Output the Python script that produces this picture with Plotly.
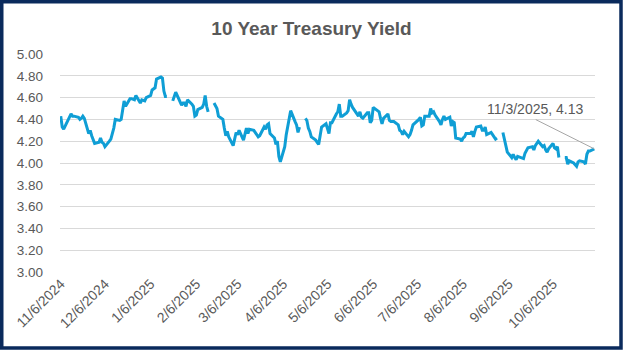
import plotly.graph_objects as go

# ---------------- data ----------------
dates = [
    "2024-11-06", "2024-11-07", "2024-11-08", "2024-11-12", "2024-11-13", "2024-11-14", "2024-11-15",
    "2024-11-18", "2024-11-19", "2024-11-20", "2024-11-21", "2024-11-22", "2024-11-25", "2024-11-26",
    "2024-11-27", "2024-11-29",
    "2024-12-02", "2024-12-03", "2024-12-04", "2024-12-05", "2024-12-06", "2024-12-09", "2024-12-10",
    "2024-12-11", "2024-12-12", "2024-12-13", "2024-12-16", "2024-12-17", "2024-12-18", "2024-12-19",
    "2024-12-20", "2024-12-23", "2024-12-24", "2024-12-26", "2024-12-27", "2024-12-30", "2024-12-31",
    "2025-01-02", "2025-01-03", "2025-01-06", "2025-01-07", "2025-01-08", "2025-01-09", "2025-01-10",
    "2025-01-13", "2025-01-14", "2025-01-15", "2025-01-16", "2025-01-17", "2025-01-20", "2025-01-21",
    "2025-01-22", "2025-01-23", "2025-01-24", "2025-01-27", "2025-01-28", "2025-01-29", "2025-01-30",
    "2025-01-31",
    "2025-02-03", "2025-02-04", "2025-02-05", "2025-02-06", "2025-02-07", "2025-02-10", "2025-02-11",
    "2025-02-12", "2025-02-13", "2025-02-14", "2025-02-17", "2025-02-18", "2025-02-19", "2025-02-20",
    "2025-02-21", "2025-02-24", "2025-02-25", "2025-02-26", "2025-02-27", "2025-02-28",
    "2025-03-03", "2025-03-04", "2025-03-05", "2025-03-06", "2025-03-07", "2025-03-10", "2025-03-11",
    "2025-03-12", "2025-03-13", "2025-03-14", "2025-03-17", "2025-03-18", "2025-03-19", "2025-03-20",
    "2025-03-21", "2025-03-24", "2025-03-25", "2025-03-26", "2025-03-27", "2025-03-28", "2025-03-31",
    "2025-04-01", "2025-04-02", "2025-04-03", "2025-04-04", "2025-04-07", "2025-04-08", "2025-04-09",
    "2025-04-10", "2025-04-11", "2025-04-14", "2025-04-15", "2025-04-16", "2025-04-17", "2025-04-18",
    "2025-04-21", "2025-04-22", "2025-04-23", "2025-04-24", "2025-04-25", "2025-04-28", "2025-04-29",
    "2025-04-30",
    "2025-05-01", "2025-05-02", "2025-05-05", "2025-05-06", "2025-05-07", "2025-05-08", "2025-05-09",
    "2025-05-12", "2025-05-13", "2025-05-14", "2025-05-15", "2025-05-16", "2025-05-19", "2025-05-20",
    "2025-05-21", "2025-05-22", "2025-05-23", "2025-05-27", "2025-05-28", "2025-05-29", "2025-05-30",
    "2025-06-02", "2025-06-03", "2025-06-04", "2025-06-05", "2025-06-06", "2025-06-09", "2025-06-10",
    "2025-06-11", "2025-06-12", "2025-06-13", "2025-06-16", "2025-06-17", "2025-06-18", "2025-06-20",
    "2025-06-23", "2025-06-24", "2025-06-25", "2025-06-26", "2025-06-27", "2025-06-30",
    "2025-07-01", "2025-07-02", "2025-07-03", "2025-07-07", "2025-07-08", "2025-07-09", "2025-07-10",
    "2025-07-11", "2025-07-14", "2025-07-15", "2025-07-16", "2025-07-17", "2025-07-18", "2025-07-21",
    "2025-07-22", "2025-07-23", "2025-07-24", "2025-07-25", "2025-07-28", "2025-07-29", "2025-07-30",
    "2025-07-31",
    "2025-08-01", "2025-08-04", "2025-08-05", "2025-08-06", "2025-08-07", "2025-08-08", "2025-08-11",
    "2025-08-12", "2025-08-13", "2025-08-14", "2025-08-15", "2025-08-18", "2025-08-19", "2025-08-20",
    "2025-08-21", "2025-08-22", "2025-08-25", "2025-08-26", "2025-08-27", "2025-08-28", "2025-08-29",
    "2025-09-01", "2025-09-02", "2025-09-03", "2025-09-04", "2025-09-05", "2025-09-08", "2025-09-09",
    "2025-09-10", "2025-09-11", "2025-09-12", "2025-09-15", "2025-09-16", "2025-09-17", "2025-09-18",
    "2025-09-19", "2025-09-22", "2025-09-23", "2025-09-24", "2025-09-25", "2025-09-26", "2025-09-29",
    "2025-09-30",
    "2025-10-01", "2025-10-02", "2025-10-03", "2025-10-06", "2025-10-07", "2025-10-08", "2025-10-09",
    "2025-10-10", "2025-10-13", "2025-10-14", "2025-10-15", "2025-10-16", "2025-10-17", "2025-10-20",
    "2025-10-21", "2025-10-22", "2025-10-23", "2025-10-24", "2025-10-27", "2025-10-28", "2025-10-29",
    "2025-10-30", "2025-10-31",
    "2025-11-03",
]

yields = [
    4.43, 4.33, 4.31, 4.43, 4.45, 4.43, 4.43,
    4.42, 4.40, 4.41, 4.43, 4.41, 4.27, 4.30,
    4.25, 4.18,
    4.19, 4.23, 4.19, 4.18, 4.15, 4.20, 4.22,
    4.27, 4.32, 4.40, 4.39, 4.40, 4.50, 4.57,
    4.52, 4.59, 4.59, 4.58, 4.62, 4.55, 4.58,
    4.57, 4.60, 4.62, 4.67, 4.68, 4.69, 4.77,
    4.79, 4.78, 4.66, 4.61, 4.61, None, 4.57,
    4.61, 4.65, 4.62, 4.53, 4.55, 4.55, 4.52,
    4.58,
    4.54, 4.52, 4.43, 4.44, 4.49, 4.51, 4.54,
    4.62, 4.52, 4.47, None, 4.55, 4.53, 4.50,
    4.43, 4.40, 4.32, 4.25, 4.29, 4.24,
    4.16, 4.22, 4.28, 4.26, 4.30, 4.21, 4.28,
    4.32, 4.27, 4.31, 4.30, 4.28, 4.25, 4.24,
    4.25, 4.33, 4.31, 4.35, 4.36, 4.27, 4.23,
    4.17, 4.20, 4.06, 4.01, 4.15, 4.26, 4.34,
    4.42, 4.48, 4.38, 4.35, 4.28, 4.33, None,
    4.41, 4.39, 4.32, 4.29, 4.24, 4.21, 4.19,
    4.17,
    4.25, 4.33, 4.36, 4.30, 4.27, 4.37, 4.37,
    4.45, 4.47, 4.54, 4.43, 4.43, 4.46, 4.48,
    4.58, 4.54, 4.51, 4.43, 4.47, 4.42, 4.41,
    4.46, 4.46, 4.37, 4.39, 4.51, 4.48, 4.47,
    4.41, 4.36, 4.41, 4.45, 4.39, 4.38, 4.38,
    4.35, 4.30, 4.29, 4.26, 4.29, 4.24,
    4.26, 4.30, 4.35, 4.40, 4.42, 4.34, 4.35,
    4.43, 4.43, 4.50, 4.46, 4.47, 4.44, 4.38,
    4.35, 4.40, 4.43, 4.40, 4.42, 4.34, 4.38,
    4.37,
    4.23, 4.22, 4.20, 4.23, 4.24, 4.27, 4.27,
    4.29, 4.24, 4.29, 4.33, 4.34, 4.30, 4.30,
    4.33, 4.26, 4.28, 4.26, 4.24, 4.22, 4.23,
    None, 4.28, 4.22, 4.17, 4.10, 4.05, 4.08,
    4.05, 4.03, 4.06, 4.05, 4.04, 4.09, 4.11,
    4.14, 4.15, 4.12, 4.16, 4.18, 4.20, 4.15,
    4.16,
    4.12, 4.10, 4.13, 4.18, 4.14, 4.13, 4.15,
    4.05, None, 4.05, 4.05, 3.99, 4.02, 4.00,
    3.98, 3.97, 4.01, 4.02, 4.01, 3.99, 4.08,
    4.11, 4.11,
    4.13,
]

tick_dates = ["2024-11-06", "2024-12-06", "2025-01-06", "2025-02-06", "2025-03-06", "2025-04-06",
              "2025-05-06", "2025-06-06", "2025-07-06", "2025-08-06", "2025-09-06", "2025-10-06"]
tick_labels = ["11/6/2024", "12/6/2024", "1/6/2025", "2/6/2025", "3/6/2025", "4/6/2025",
               "5/6/2025", "6/6/2025", "7/6/2025", "8/6/2025", "9/6/2025", "10/6/2025"]
y_ticks = [3.00, 3.20, 3.40, 3.60, 3.80, 4.00, 4.20, 4.40, 4.60, 4.80, 5.00]
title_text = "10 Year Treasury Yield"

# ---------------- layout constants ----------------
W, H = 623, 350
L, R, T, B = 60, 28, 54, 78
PW, PH = W - L - R, H - T - B
FONT = "Liberation Sans, Arial, sans-serif"
GREY = "#595959"

last_date = dates[-1]
last_val = yields[-1]
y_, m_, d_ = last_date.split("-")
last_label = f"{int(m_)}/{int(d_)}/{y_}, {last_val:.2f}"

fig = go.Figure()
fig.add_trace(go.Scatter(
    x=dates, y=yields, mode="lines",
    line=dict(color="#0F9ED5", width=3),
    connectgaps=False, hoverinfo="skip", showlegend=False,
))

def px_x(p):
    return (p - L) / PW

def px_y(p):
    return (H - B - p) / PH

fig.update_layout(
    width=W, height=H,
    margin=dict(l=L, r=R, t=T, b=B),
    paper_bgcolor="white", plot_bgcolor="white",
    font=dict(family=FONT, color=GREY),
    title=dict(text=title_text, x=0.5, xref="container", xanchor="center",
               y=1 - 28 / H, yref="container", yanchor="middle",
               font=dict(family=FONT, size=19, color=GREY, weight="bold")),
    xaxis=dict(
        type="date", range=["2024-11-05 12:00", "2025-11-03 12:00"],
        tickvals=tick_dates, ticktext=tick_labels, tickangle=-45,
        showgrid=False, zeroline=False, showline=False, ticks="",
        tickfont=dict(family=FONT, size=14, color=GREY),
    ),
    yaxis=dict(
        range=[3.0, 5.0], tickvals=y_ticks, tickformat=".2f",
        showgrid=True, gridcolor="#D9D9D9", gridwidth=1,
        zeroline=False, showline=False, ticks="",
        ticklabelstandoff=16,
        tickfont=dict(family=FONT, size=13.5, color=GREY),
    ),
    shapes=[dict(
        type="rect", xref="paper", yref="paper",
        x0=px_x(1.75), x1=px_x(W - 2.0), y0=px_y(H - 2.0), y1=px_y(1.75),
        line=dict(color="#0A2A5C", width=3.5), fillcolor="rgba(0,0,0,0)", layer="above",
    )],
    annotations=[
        dict(x=last_date, y=last_val, xref="x", yref="y", text="",
             showarrow=True, arrowhead=0, arrowwidth=1, arrowcolor="#A6A6A6",
             ax=-60, ay=-30, standoff=0),
        dict(x=last_date, y=last_val, xref="x", yref="y", text=last_label,
             showarrow=False, xshift=-59, yshift=40,
             font=dict(family=FONT, size=14, color=GREY)),
    ],
)

fig.write_html("out.html")
